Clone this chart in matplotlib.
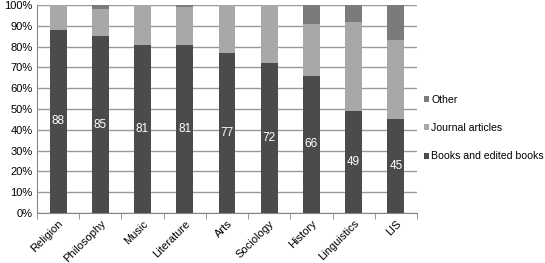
import numpy as np
import matplotlib.pyplot as plt

categories = ["Religion", "Philosophy", "Music", "Literature", "Arts",
              "Sociology", "History", "Linguistics", "LIS"]
books = [88, 85, 81, 81, 77, 72, 66, 49, 45]
journals = [12, 13, 19, 18, 23, 28, 25, 43, 38]
other = [0, 2, 0, 1, 0, 0, 9, 8, 17]

plt.rcParams['font.family'] = ['Liberation Sans', 'DejaVu Sans']

fig = plt.figure(figsize=(5.45, 2.63), dpi=100)
ax = fig.add_axes([37 / 545, 50 / 263, 380 / 545, 208 / 263])

x = np.arange(len(categories))
books_arr = np.array(books)
journ_arr = np.array(journals)
b1 = ax.bar(x, books, width=0.4, color="#4b4b4b", label="Books and edited books", zorder=3)
b2 = ax.bar(x, journals, width=0.4, bottom=books, color="#a8a8a8", label="Journal articles", zorder=3)
b3 = ax.bar(x, other, width=0.4, bottom=books_arr + journ_arr, color="#7b7b7b", label="Other", zorder=3)

for xi, v in zip(x, books):
    ax.text(xi, v / 2, str(v), ha="center", va="center", color="white", fontsize=8.5, zorder=4)

ax.set_xlim(-0.5, len(categories) - 0.5)
ax.set_ylim(0, 100)
ax.set_yticks(range(0, 101, 10))
ax.set_yticklabels([f"{v}%" for v in range(0, 101, 10)], fontsize=8)
ax.yaxis.grid(True, color="#9a9a9a", linewidth=1, zorder=0)
ax.tick_params(axis="y", length=0, pad=3)

ax.set_xticks(x)
ax.set_xticklabels(categories, rotation=45, ha="right", rotation_mode="anchor", fontsize=8)
ax.tick_params(axis="x", length=0, pad=4)
ax.set_xticks(np.arange(-0.5, len(categories), 1), minor=True)
ax.tick_params(axis="x", which="minor", length=4, color="#888888")

for s in ["top", "right"]:
    ax.spines[s].set_visible(False)
ax.spines["left"].set_color("#888888")
ax.spines["bottom"].set_color("#888888")

handles = [b3, b2, b1]
fig.legend(handles, [h.get_label() for h in handles], loc="center left",
           bbox_to_anchor=(424 / 545, 1 - 128 / 263), frameon=False, fontsize=7.6,
           borderpad=0, borderaxespad=0,
           handlelength=0.45, handleheight=0.45, handletextpad=0.25, labelspacing=1.75)

fig.savefig("out.png", dpi=100)
